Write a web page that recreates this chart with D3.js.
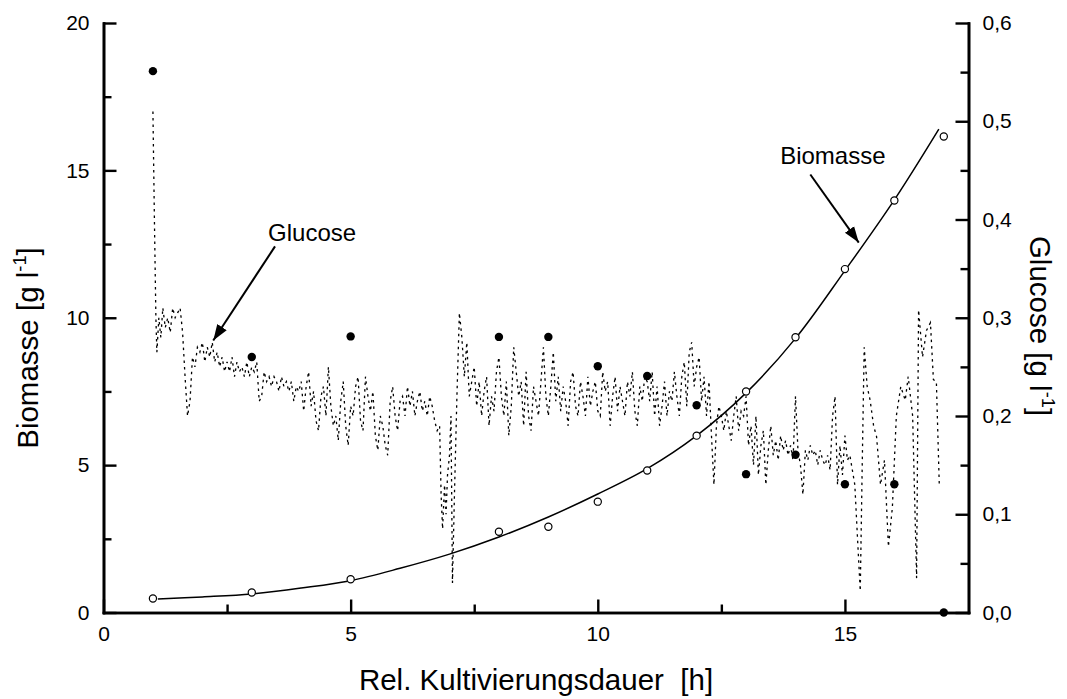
<!DOCTYPE html>
<html>
<head>
<meta charset="utf-8">
<script src="https://cdn.jsdelivr.net/npm/d3@7"></script>
<style>
  html, body { margin: 0; padding: 0; background: #fff; }
  svg { display: block; font-family: Arial, "Liberation Sans", Helvetica, sans-serif; }
</style>
</head>
<body>
<svg id="chart" width="1067" height="699"></svg>
<script>
// ---------------- DATA ----------------
// Biomass measurements (left axis, g/l)
const biomassTime = [1, 3, 5, 8, 9, 10, 11, 12, 13, 14, 15, 16, 17];
const biomassValue = [0.475, 0.68, 1.13, 2.74, 2.91, 3.76, 4.82, 6.0, 7.5, 9.34, 11.65, 13.98, 16.15];

// Biomass fitted curve (left axis, g/l)
const biomassFitTime = [1.1, 2, 3, 4, 5, 6, 7, 8, 9, 10, 11, 12, 13, 14, 15, 16, 16.9];
const biomassFitValue = [0.46, 0.53, 0.63, 0.83, 1.08, 1.5, 1.98, 2.56, 3.24, 4.02, 4.88, 6.0, 7.45, 9.3, 11.6, 14.0, 16.4];

// Glucose offline samples (right axis, g/l)
const glucoseSampleTime = [1, 3, 5, 8, 9, 10, 11, 12, 13, 14, 15, 16, 17];
const glucoseSampleValue = [0.551, 0.26, 0.281, 0.2805, 0.2805, 0.2507, 0.2408, 0.211, 0.1408, 0.1605, 0.1306, 0.1306, 0.0];

// Glucose online signal (right axis, g/l): [time h, value]
const glucoseOnline = [
  [1.00,0.51],[1.03,0.40],[1.06,0.30],[1.08,0.265],[1.12,0.30],[1.16,0.28],[1.20,0.31],[1.25,0.29],[1.30,0.30],[1.35,0.285],
  [1.40,0.31],[1.45,0.30],[1.50,0.305],[1.55,0.31],[1.60,0.285],[1.65,0.24],[1.70,0.20],[1.75,0.215],[1.80,0.26],[1.85,0.25],
  [1.90,0.27],[1.95,0.265],[2.00,0.275],[2.05,0.255],[2.10,0.27],[2.15,0.26],[2.20,0.275],[2.25,0.255],[2.30,0.265],[2.35,0.25],
  [2.40,0.26],[2.45,0.245],[2.50,0.255],[2.55,0.245],[2.60,0.26],[2.65,0.24],[2.70,0.255],[2.75,0.245],[2.80,0.25],[2.85,0.24],
  [2.90,0.255],[2.95,0.24],[3.00,0.25],[3.05,0.245],[3.10,0.255],[3.15,0.215],[3.20,0.22],[3.25,0.245],[3.30,0.235],[3.35,0.24],
  [3.40,0.23],[3.45,0.24],[3.50,0.235],[3.55,0.225],[3.60,0.24],[3.65,0.23],[3.70,0.235],[3.75,0.225],[3.80,0.235],[3.85,0.215],
  [3.90,0.23],[3.95,0.225],[4.00,0.235],[4.05,0.205],[4.10,0.23],[4.15,0.245],[4.20,0.21],[4.25,0.225],[4.30,0.195],[4.35,0.185],
  [4.40,0.22],[4.45,0.23],[4.50,0.20],[4.55,0.25],[4.60,0.21],[4.65,0.19],[4.70,0.20],[4.75,0.175],[4.80,0.215],[4.85,0.235],
  [4.90,0.19],[4.95,0.17],[5.00,0.21],[5.05,0.20],[5.10,0.23],[5.15,0.24],[5.20,0.195],[5.25,0.185],[5.30,0.24],[5.35,0.22],
  [5.40,0.205],[5.45,0.225],[5.50,0.18],[5.55,0.165],[5.60,0.20],[5.65,0.19],[5.70,0.17],[5.75,0.16],[5.80,0.215],[5.85,0.23],
  [5.90,0.20],[5.95,0.185],[6.00,0.215],[6.05,0.22],[6.10,0.20],[6.15,0.23],[6.20,0.21],[6.25,0.225],[6.30,0.20],[6.35,0.215],
  [6.40,0.225],[6.45,0.205],[6.50,0.215],[6.55,0.20],[6.60,0.22],[6.65,0.21],[6.70,0.195],[6.75,0.185],[6.80,0.19],[6.83,0.12],
  [6.86,0.085],[6.90,0.13],[6.93,0.10],[6.96,0.14],[7.00,0.16],[7.03,0.20],[7.06,0.03],[7.10,0.12],[7.15,0.22],[7.20,0.305],
  [7.25,0.28],[7.30,0.24],[7.35,0.275],[7.40,0.22],[7.45,0.235],[7.50,0.25],[7.55,0.21],[7.60,0.235],[7.65,0.20],[7.70,0.225],
  [7.75,0.24],[7.80,0.19],[7.85,0.22],[7.90,0.205],[7.95,0.245],[8.00,0.26],[8.05,0.22],[8.10,0.20],[8.15,0.235],[8.20,0.18],
  [8.25,0.21],[8.30,0.27],[8.35,0.245],[8.40,0.22],[8.45,0.235],[8.50,0.19],[8.55,0.245],[8.60,0.20],[8.65,0.185],[8.70,0.23],
  [8.75,0.215],[8.80,0.20],[8.85,0.235],[8.90,0.27],[8.95,0.22],[9.00,0.20],[9.05,0.23],[9.10,0.265],[9.15,0.215],[9.20,0.24],
  [9.25,0.205],[9.30,0.23],[9.35,0.215],[9.40,0.19],[9.45,0.235],[9.50,0.245],[9.55,0.21],[9.60,0.20],[9.65,0.235],[9.70,0.22],
  [9.75,0.20],[9.80,0.24],[9.85,0.21],[9.90,0.225],[9.95,0.235],[10.00,0.205],[10.05,0.20],[10.10,0.245],[10.15,0.225],[10.20,0.235],
  [10.25,0.19],[10.30,0.22],[10.35,0.24],[10.40,0.205],[10.45,0.23],[10.50,0.215],[10.55,0.20],[10.60,0.235],[10.65,0.22],[10.70,0.245],
  [10.75,0.205],[10.80,0.19],[10.85,0.23],[10.90,0.215],[10.95,0.24],[11.00,0.235],[11.05,0.215],[11.10,0.245],[11.15,0.20],[11.20,0.23],
  [11.25,0.19],[11.30,0.21],[11.35,0.235],[11.40,0.20],[11.45,0.225],[11.50,0.215],[11.55,0.245],[11.60,0.22],[11.65,0.20],[11.70,0.24],
  [11.75,0.255],[11.80,0.21],[11.85,0.265],[11.90,0.275],[11.95,0.23],[12.00,0.25],[12.05,0.26],[12.10,0.215],[12.15,0.24],[12.20,0.20],
  [12.25,0.235],[12.30,0.18],[12.35,0.13],[12.40,0.19],[12.45,0.21],[12.50,0.20],[12.55,0.185],[12.60,0.205],[12.65,0.19],[12.70,0.175],
  [12.75,0.20],[12.80,0.22],[12.85,0.185],[12.90,0.205],[12.95,0.20],[13.00,0.22],[13.05,0.17],[13.10,0.19],[13.15,0.15],[13.20,0.20],
  [13.25,0.14],[13.30,0.17],[13.35,0.185],[13.40,0.13],[13.45,0.165],[13.50,0.19],[13.55,0.16],[13.60,0.175],[13.65,0.155],[13.70,0.18],
  [13.75,0.165],[13.80,0.175],[13.85,0.16],[13.90,0.17],[13.95,0.155],[14.00,0.22],[14.05,0.165],[14.10,0.15],[14.15,0.12],[14.20,0.165],
  [14.25,0.155],[14.30,0.17],[14.35,0.16],[14.40,0.165],[14.45,0.15],[14.50,0.165],[14.55,0.155],[14.60,0.15],[14.65,0.16],[14.70,0.145],
  [14.75,0.20],[14.80,0.22],[14.85,0.13],[14.90,0.17],[14.95,0.14],[15.00,0.18],[15.05,0.155],[15.10,0.16],[15.15,0.145],[15.20,0.13],
  [15.25,0.08],[15.31,0.022],[15.35,0.15],[15.39,0.27],[15.45,0.23],[15.51,0.216],[15.58,0.19],[15.64,0.179],[15.72,0.13],[15.80,0.155],
  [15.88,0.067],[15.96,0.107],[16.04,0.20],[16.13,0.23],[16.22,0.216],[16.28,0.24],[16.37,0.20],[16.45,0.035],[16.49,0.308],[16.57,0.26],
  [16.65,0.287],[16.73,0.295],[16.79,0.237],[16.85,0.235],[16.91,0.128]
];

// Axis ticks
const xMajorTicks = [0, 5, 10, 15];
const xMinorTicks = [2.5, 7.5, 12.5];
const yLeftMajorTicks = [0, 5, 10, 15, 20];
const yLeftMinorTicks = [2.5, 7.5, 12.5, 17.5];
const yRightMajorTicks = [0, 0.1, 0.2, 0.3, 0.4, 0.5, 0.6];
const yRightMinorTicks = [0.05, 0.15, 0.25, 0.35, 0.45, 0.55];

// Text
const xTitle = "Rel. Kultivierungsdauer  [h]";
const yLeftTitle = "Biomasse [g l";
const yRightTitle = "Glucose [g l";
const unitExponent = "-1";

// Annotations (data units: time, left-axis value)
const annotationLabels = ["Glucose", "Biomasse"];
const annotationTextPos = [[3.33, 12.62], [13.69, 15.2]];
const annotationArrowFrom = [[3.47, 12.42], [14.3, 14.86]];
const annotationArrowTo = [[2.22, 9.23], [15.28, 12.55]];

// ---------------- CHART ----------------
const svg = d3.select("#chart");
const plotLeft = 103.5, plotRight = 968.5, plotTop = 23, plotBottom = 612.5;

const x = d3.scaleLinear().domain([0, 17.5]).range([plotLeft, plotRight]);
const yL = d3.scaleLinear().domain([0, 20]).range([plotBottom, plotTop]);
const yR = d3.scaleLinear().domain([0, 0.6]).range([plotBottom, plotTop]);

const tickFont = 21;
const commaFmt = d => d3.format(".1f")(d).replace(".", ",");

function styleAxis(g) {
  g.selectAll("path.domain").attr("stroke", "#000").attr("stroke-width", 2.6).attr("stroke-linecap", "square");
  g.selectAll(".tick line").attr("stroke", "#000").attr("stroke-width", 2.4);
  g.selectAll(".tick text").attr("fill", "#000").attr("font-size", tickFont)
    .attr("font-family", "Arial, 'Liberation Sans', sans-serif");
}

// Minor ticks
svg.append("g").attr("transform", `translate(0,${plotBottom})`)
  .call(d3.axisBottom(x).tickValues(xMinorTicks).tickSize(-8).tickSizeOuter(0).tickFormat(""))
  .call(styleAxis);
svg.append("g").attr("transform", `translate(${plotLeft},0)`)
  .call(d3.axisLeft(yL).tickValues(yLeftMinorTicks).tickSize(-8).tickSizeOuter(0).tickFormat(""))
  .call(styleAxis);
svg.append("g").attr("transform", `translate(${plotRight},0)`)
  .call(d3.axisRight(yR).tickValues(yRightMinorTicks).tickSize(-8).tickSizeOuter(0).tickFormat(""))
  .call(styleAxis);

// Major ticks
svg.append("g").attr("transform", `translate(0,${plotBottom})`)
  .call(d3.axisBottom(x).tickValues(xMajorTicks).tickSize(-13).tickSizeOuter(0).tickPadding(14).tickFormat(d3.format("d")))
  .call(styleAxis);
svg.append("g").attr("transform", `translate(${plotLeft},0)`)
  .call(d3.axisLeft(yL).tickValues(yLeftMajorTicks).tickSize(-13).tickSizeOuter(0).tickPadding(14).tickFormat(d3.format("d")))
  .call(styleAxis);
svg.append("g").attr("transform", `translate(${plotRight},0)`)
  .call(d3.axisRight(yR).tickValues(yRightMajorTicks).tickSize(-13).tickSizeOuter(0).tickPadding(14).tickFormat(commaFmt))
  .call(styleAxis);

// Glucose online signal (dotted)
const gLine = d3.line().x(d => x(d[0])).y(d => yR(d[1]));
svg.append("path").datum(glucoseOnline)
  .attr("d", gLine).attr("fill", "none").attr("stroke", "#000")
  .attr("stroke-width", 1.3).attr("stroke-dasharray", "2.5,4");

// Biomass fit curve
const fitData = biomassFitTime.map((t, i) => [t, biomassFitValue[i]]);
const bLine = d3.line().x(d => x(d[0])).y(d => yL(d[1])).curve(d3.curveCatmullRom);
svg.append("path").datum(fitData)
  .attr("d", bLine).attr("fill", "none").attr("stroke", "#000").attr("stroke-width", 1.5);

// Glucose samples (filled)
svg.append("g").selectAll("circle")
  .data(glucoseSampleTime.map((t, i) => [t, glucoseSampleValue[i]]))
  .join("circle")
  .attr("cx", d => x(d[0])).attr("cy", d => yR(d[1])).attr("r", 4.2).attr("fill", "#000");

// Biomass samples (open)
svg.append("g").selectAll("circle")
  .data(biomassTime.map((t, i) => [t, biomassValue[i]]))
  .join("circle")
  .attr("cx", d => x(d[0])).attr("cy", d => yL(d[1])).attr("r", 3.6)
  .attr("fill", "#fff").attr("stroke", "#000").attr("stroke-width", 1.2);

// Annotations
svg.append("defs").append("marker")
  .attr("id", "arrow").attr("viewBox", "0 0 10 10").attr("refX", 10).attr("refY", 5)
  .attr("markerWidth", 16).attr("markerHeight", 16).attr("markerUnits", "userSpaceOnUse")
  .attr("orient", "auto")
  .append("path").attr("d", "M0,1.5 L10,5 L0,8.5 Z").attr("fill", "#000");

annotationLabels.forEach((lab, i) => {
  svg.append("text").attr("x", x(annotationTextPos[i][0])).attr("y", yL(annotationTextPos[i][1]))
    .attr("font-size", 24).attr("fill", "#000").text(lab);
  svg.append("line")
    .attr("x1", x(annotationArrowFrom[i][0])).attr("y1", yL(annotationArrowFrom[i][1]))
    .attr("x2", x(annotationArrowTo[i][0])).attr("y2", yL(annotationArrowTo[i][1]))
    .attr("stroke", "#000").attr("stroke-width", 2).attr("marker-end", "url(#arrow)");
});

// Axis titles
const titleFont = 29.5;
svg.append("text").attr("x", (plotLeft + plotRight) / 2).attr("y", 690)
  .attr("text-anchor", "middle").attr("font-size", titleFont).attr("fill", "#000")
  .style("white-space", "pre").attr("xml:space", "preserve")
  .text(xTitle);

function unitTitle(t, tx, ty, angle) {
  const el = svg.append("text").attr("transform", `translate(${tx},${ty}) rotate(${angle})`)
    .attr("text-anchor", "middle").attr("font-size", titleFont).attr("fill", "#000");
  el.append("tspan").text(t);
  el.append("tspan").attr("font-size", titleFont * 0.62).attr("dy", -titleFont * 0.42).text(unitExponent);
  el.append("tspan").attr("dy", titleFont * 0.42).text("]");
}
unitTitle(yLeftTitle, 38, 348, -90);
unitTitle(yRightTitle, 1030, 326, 90);
</script>
</body>
</html>
